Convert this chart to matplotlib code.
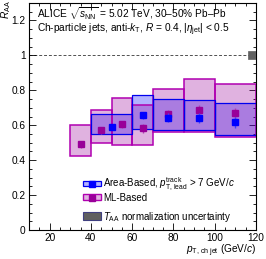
import matplotlib
matplotlib.use('Agg')
import matplotlib.pyplot as plt
from matplotlib.patches import Patch
from matplotlib.lines import Line2D
from matplotlib.ticker import MultipleLocator
import numpy as np

plt.rcParams['font.family'] = ['Liberation Sans', 'DejaVu Sans']
plt.rcParams['mathtext.fontset'] = 'custom'
plt.rcParams['mathtext.rm'] = 'Liberation Sans'
plt.rcParams['mathtext.it'] = 'Liberation Sans:italic'
plt.rcParams['mathtext.bf'] = 'Liberation Sans:bold'

# ---------------- data ----------------
ml_bin_lo = [30, 40, 50, 60, 70, 85, 100]
ml_bin_hi = [40, 50, 60, 70, 85, 100, 120]
ml_val = [0.49, 0.57, 0.605, 0.583, 0.663, 0.686, 0.668]
ml_stat = [0.02, 0.02, 0.02, 0.025, 0.025, 0.03, 0.03]
ml_sys_lo = [0.422, 0.497, 0.486, 0.486, 0.560, 0.560, 0.531]
ml_sys_hi = [0.604, 0.690, 0.757, 0.714, 0.806, 0.862, 0.834]

area_bin_lo = [40, 60, 70, 85, 100]
area_bin_hi = [60, 70, 85, 100, 120]
area_val = [0.59, 0.657, 0.643, 0.640, 0.617]
area_stat = [0.015, 0.02, 0.025, 0.03, 0.03]
area_sys_lo = [0.549, 0.577, 0.571, 0.571, 0.543]
area_sys_hi = [0.667, 0.771, 0.749, 0.743, 0.727]

taa_unc = 0.023

# ---------------- style ----------------
FS = 7.3
LFS = 7.0
ml_fill = (0.6, 0.0, 0.6, 0.3)
ml_edge = '#b000b0'
ml_mark = '#990099'
area_fill = (0.0, 0.0, 1.0, 0.3)
area_edge = '#0000ee'
area_mark = '#0000ff'
taa_col = '#606060'

fig = plt.figure(figsize=(2.66, 2.59), dpi=100)
ax = fig.add_axes([29 / 266, 1 - 230 / 259, 227 / 266, 227 / 259])

ml_lo = np.array(ml_bin_lo, float)
ml_hi = np.array(ml_bin_hi, float)
ml_c = 0.5 * (ml_lo + ml_hi)
ar_lo = np.array(area_bin_lo, float)
ar_hi = np.array(area_bin_hi, float)
ar_c = 0.5 * (ar_lo + ar_hi)

ml_h = np.array(ml_sys_hi) - np.array(ml_sys_lo)
ar_h = np.array(area_sys_hi) - np.array(area_sys_lo)

# systematic boxes: fills (area below, ML on top), then edges
ax.bar(ar_c, ar_h, bottom=area_sys_lo, width=ar_hi - ar_lo,
       facecolor=area_fill, edgecolor='none', zorder=2)
ax.bar(ml_c, ml_h, bottom=ml_sys_lo, width=ml_hi - ml_lo,
       facecolor=ml_fill, edgecolor='none', zorder=2.5)
ax.bar(ml_c, ml_h, bottom=ml_sys_lo, width=ml_hi - ml_lo,
       facecolor='none', edgecolor=ml_edge, linewidth=1.1, zorder=3)
ax.bar(ar_c, ar_h, bottom=area_sys_lo, width=ar_hi - ar_lo,
       facecolor='none', edgecolor=area_edge, linewidth=0.9, zorder=3.5)

# points with stat errors
ax.errorbar(ml_c, ml_val, yerr=ml_stat, fmt='s', ms=4.8, color=ml_mark,
            ecolor='#b040b0', elinewidth=1.0, capsize=0, zorder=5)
ax.errorbar(ar_c, area_val, yerr=area_stat, fmt='s', ms=4.8, color=area_mark,
            ecolor='#4040ff', elinewidth=1.0, capsize=0, zorder=6)

# unity line and TAA box
ax.axhline(1.0, color='#505050', lw=0.7, ls=(0, (3, 2)), zorder=1)
ax.bar(118, 2 * taa_unc, bottom=1 - taa_unc, width=4, facecolor=taa_col,
       edgecolor=taa_col, linewidth=0.5, zorder=4)

ax.set_xlim(10, 120)
ax.set_ylim(0, 1.3)
ax.xaxis.set_major_locator(MultipleLocator(20))
ax.xaxis.set_minor_locator(MultipleLocator(5))
ax.yaxis.set_major_locator(MultipleLocator(0.2))
ax.yaxis.set_minor_locator(MultipleLocator(0.05))
ax.tick_params(which='both', direction='in', top=True, right=True, width=0.6,
               labelsize=FS, colors='black')
ax.tick_params(which='major', length=5, pad=2.5)
ax.tick_params(which='minor', length=2.5)
ax.set_yticks([0, 0.2, 0.4, 0.6, 0.8, 1.0, 1.2])
ax.set_yticklabels(['0', '0.2', '0.4', '0.6', '0.8', '1', '1.2'])
for s in ax.spines.values():
    s.set_linewidth(0.8)

ax.set_xlabel(r'$p_{\rm T,\,ch\;jet}$ (GeV/$c$)', fontsize=FS, loc='right')
ax.xaxis.set_label_coords(1.0, -0.055)
ax.set_ylabel(r'$R_{\rm AA}$', fontsize=FS, loc='top')
ax.yaxis.set_label_coords(-0.07, 1.013)

ax.text(0.035, 0.953, r'ALICE $\sqrt{s_{\rm NN}}$ = 5.02 TeV, 30–50% Pb–Pb',
        transform=ax.transAxes, fontsize=FS, va='center', ha='left')
ax.text(0.035, 0.883, r'Ch-particle jets, anti-$k_{\rm T}$, $R$ = 0.4, $|\eta_{\rm jet}|$ < 0.5',
        transform=ax.transAxes, fontsize=FS, va='center', ha='left')

# legends
h_area = (Patch(facecolor=area_fill, edgecolor=area_edge, linewidth=0.9),
          Line2D([], [], marker='s', ls='none', ms=4, color=area_mark))
h_ml = (Patch(facecolor=ml_fill, edgecolor=ml_edge, linewidth=1.0),
        Line2D([], [], marker='s', ls='none', ms=4, color=ml_mark))
leg1 = ax.legend([h_area, h_ml],
                 [r'Area-Based, $p_{\rm T,\,lead}^{\rm track}$ > 7 GeV/$c$', 'ML-Based'],
                 loc='upper left', bbox_to_anchor=(0.238, 0.24), frameon=False,
                 fontsize=LFS, handlelength=1.9, handleheight=0.55, handletextpad=0.2,
                 labelspacing=0.0, borderpad=0.0, borderaxespad=0.0)
ax.add_artist(leg1)
h_taa = Patch(facecolor=taa_col, edgecolor='#404080', linewidth=0.8)
ax.legend([h_taa], [r'$T_{\rm AA}$ normalization uncertainty'],
          loc='upper left', bbox_to_anchor=(0.238, 0.09), frameon=False,
          fontsize=LFS, handlelength=1.9, handleheight=0.85, handletextpad=0.2,
          borderpad=0.0, borderaxespad=0.0)

fig.savefig('out.png', dpi=100)
